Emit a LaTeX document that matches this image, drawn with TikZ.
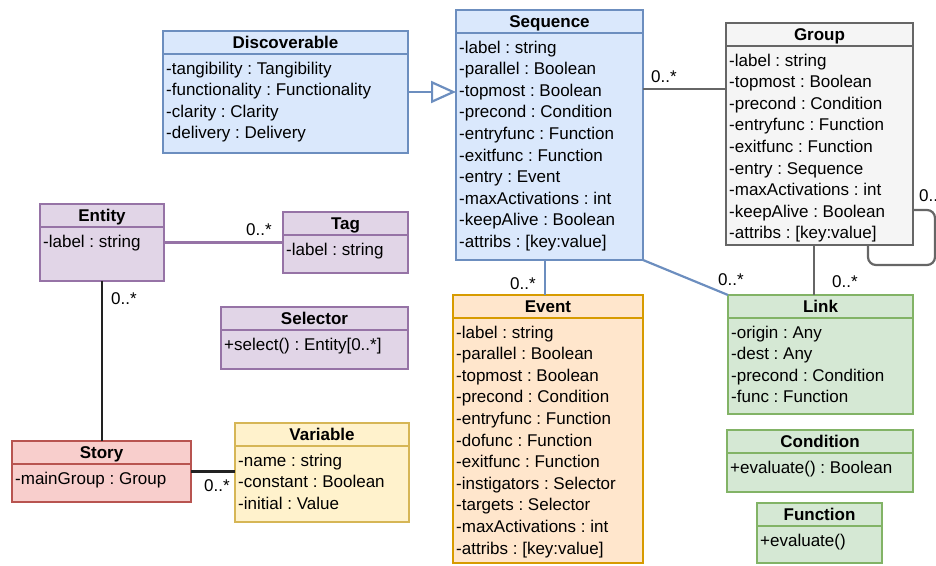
\documentclass[tikz,border=0pt]{standalone}
\usepackage{fontspec}
\setmainfont{Liberation Sans}
\usetikzlibrary{arrows.meta}
\definecolor{bfill}{HTML}{DAE8FC}\definecolor{bline}{HTML}{6C8EBF}
\definecolor{pfill}{HTML}{E1D5E7}\definecolor{pline}{HTML}{9673A6}
\definecolor{rfill}{HTML}{F8CECC}\definecolor{rline}{HTML}{B85450}
\definecolor{yfill}{HTML}{FFF2CC}\definecolor{yline}{HTML}{D6B656}
\definecolor{ofill}{HTML}{FFE6CC}\definecolor{oline}{HTML}{D79B00}
\definecolor{grfill}{HTML}{D5E8D4}\definecolor{grline}{HTML}{82B366}
\definecolor{gfill}{HTML}{F5F5F5}\definecolor{gline}{HTML}{666666}
\definecolor{dark}{HTML}{222222}
\frenchspacing
\tikzset{
  box/.style={inner sep=0pt, outer sep=0pt, line width=2.2pt},
  titl/.style={font=\fontsize{17}{20}\selectfont\bfseries, inner sep=0pt, text height=12pt, text depth=4pt},
  attr/.style={font=\fontsize{17}{20}\selectfont, inner sep=0pt, anchor=west, text height=12pt, text depth=4pt},
  conn/.style={line width=2.2pt},
  mult/.style={font=\fontsize{17}{20}\selectfont, inner sep=0pt, text height=12pt, text depth=4pt},
}
\newcommand\umlcls[8]{%
  \node[box, fill=#2fill, draw=#2line, anchor=north west,
        minimum width={(#5-#3)*1pt}, minimum height={(#6-#4)*1pt}] (#1) at (#3,#4) {};
  \draw[line width=2.2pt, #2line] ([yshift=-23pt]#1.north west) -- ([yshift=-23pt]#1.north east);
  \node[titl] (#1-t) at ({(#3+#5)/2},{#4+13.5}) {#7};
  \foreach \t [count=\i] in {#8} \node[attr] (#1-\i) at (#3+3,{#4+39+(\i-1)*21.6}) {\t};
}
\begin{document}
\begin{tikzpicture}[x=1pt,y=-1pt]
\useasboundingbox (0,0) rectangle (936,565);
\umlcls{disc}{b}{163}{31}{408}{153}{Discoverable}{-tangibility : Tangibility,-functionality : Functionality,-clarity : Clarity,-delivery : Delivery}
\umlcls{seq}{b}{456}{10}{643}{260}{Sequence}{-label : string,-parallel : Boolean,-topmost : Boolean,-precond : Condition,-entryfunc : Function,-exitfunc : Function,-entry : Event,-maxActivations : int,-keepAlive : Boolean,-attribs : [key:value]}
\umlcls{grp}{g}{726}{23}{913}{245}{Group}{-label : string,-topmost : Boolean,-precond : Condition,-entryfunc : Function,-exitfunc : Function,-entry : Sequence,-maxActivations : int,-keepAlive : Boolean,-attribs : [key:value]}
\umlcls{ent}{p}{40}{204}{164}{281}{Entity}{-label : string}
\umlcls{tag}{p}{283}{212}{408}{273}{Tag}{-label : string}
\umlcls{sel}{p}{221}{307}{408}{369}{Selector}{+select() : Entity[0..*]}
\umlcls{story}{r}{12}{441}{191}{502}{Story}{-mainGroup : Group}
\umlcls{var}{y}{235}{423}{409}{522}{Variable}{-name : string,-constant : Boolean,-initial : Value}
\umlcls{evt}{o}{453}{295}{643}{563}{Event}{-label : string,-parallel : Boolean,-topmost : Boolean,-precond : Condition,-entryfunc : Function,-dofunc : Function,-exitfunc : Function,-instigators : Selector,-targets : Selector,-maxActivations : int,-attribs : [key:value]}
\umlcls{link}{gr}{728}{295}{913}{414}{Link}{-origin : Any,-dest : Any,-precond : Condition,-func : Function}
\umlcls{cond}{gr}{727}{430}{913}{492}{Condition}{+evaluate() : Boolean}
\umlcls{func}{gr}{757}{503}{882}{563}{Function}{+evaluate()}
% helper coordinates
\coordinate (ySG) at (0,89);
\coordinate (xGL) at (814,0);
\coordinate (xSE) at (545,0);
\coordinate (loopA) at (935,210);
\coordinate (loopB) at (935,265);
\coordinate (loopC) at (868,265);
\coordinate (xLoop) at (868,0);
% connectors
\draw[conn, bline, -{Triangle[open, length=25pt, width=22pt, line width=2.2pt]}] (disc.east) -- (disc.east -| seq.west);
\draw[conn, gline] (seq.east |- ySG) -- (grp.west |- ySG);
\node[mult, anchor=west] (m1) at (651,78) {0..*};
\draw[conn, gline, rounded corners=8pt] (grp.east |- loopA) -- (loopA) -- (loopB) -- (loopC) -- (xLoop |- grp.south);
\node[mult, anchor=west] (m2) at (919,197) {0..*};
\draw[conn, gline] (xGL |- grp.south) -- (xGL |- link.north);
\node[mult, anchor=west] (m3) at (832,283) {0..*};
\draw[conn, bline] (seq.south east) -- (link.north west);
\node[mult, anchor=west] (m4) at (718,281) {0..*};
\draw[conn, bline] (xSE |- seq.south) -- (xSE |- evt.north);
\node[mult, anchor=west] (m5) at (510,285) {0..*};
\draw[conn, pline] (ent.east) -- (tag.west);
\node[mult, anchor=west] (m6) at (246,231) {0..*};
\draw[conn, dark] (ent.south) -- (ent.south |- story.north);
\node[mult, anchor=west] (m7) at (111,300) {0..*};
\draw[conn, dark] (story.east) -- (story.east -| var.west);
\node[mult, anchor=west] (m8) at (204,487) {0..*};
\end{tikzpicture}
\end{document}
